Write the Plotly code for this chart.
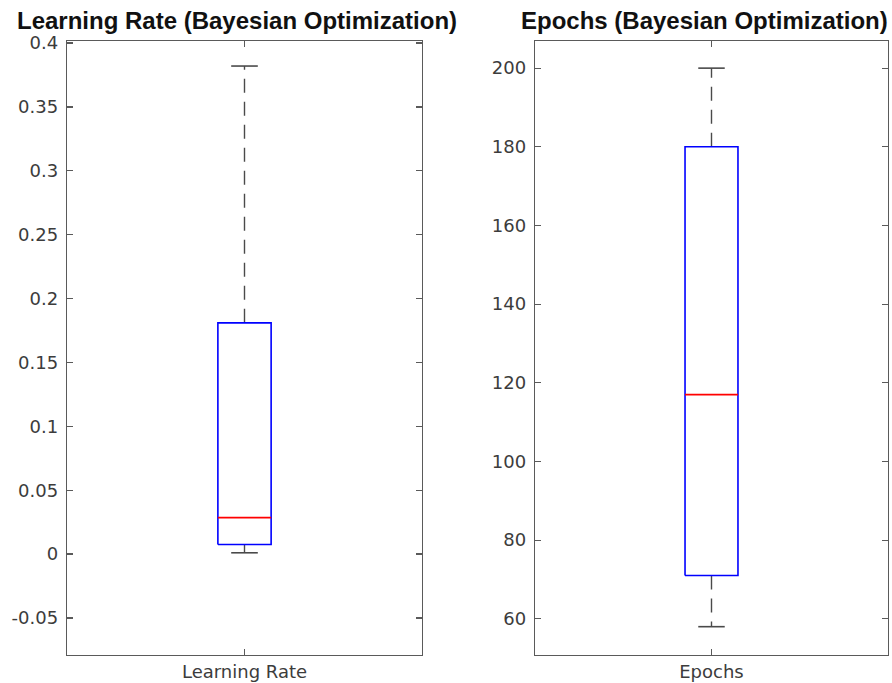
import plotly.graph_objects as go

# ---- data ----
panels = ["Learning Rate", "Epochs"]
titles = ["Learning Rate (Bayesian Optimization)", "Epochs (Bayesian Optimization)"]
lr_stats = {"lower": 0.001, "q1": 0.0075, "median": 0.0285, "q3": 0.181, "upper": 0.382}
ep_stats = {"lower": 58, "q1": 71, "median": 117, "q3": 180, "upper": 200}
lr_ticks = [-0.05, 0, 0.05, 0.1, 0.15, 0.2, 0.25, 0.3, 0.35, 0.4]
lr_ticktext = ["-0.05", "0", "0.05", "0.1", "0.15", "0.2", "0.25", "0.3", "0.35", "0.4"]
ep_ticks = [60, 80, 100, 120, 140, 160, 180, 200]
ep_ticktext = ["60", "80", "100", "120", "140", "160", "180", "200"]
lr_range = [-0.079, 0.4016]
ep_range = [50.8, 206.9]

W, H = 892, 683
fig = go.Figure()

BOX_HALF = 0.075
CAP_HALF = 0.0375
WHISK_COL = "#4a4a4a"
AX_COL = "#5a5a5a"
TICK_FONT = dict(family="DejaVu Sans", size=18, color="#3c3c3c")


def add_box(stats, xa, ya):
    x0 = 1
    fig.add_trace(go.Scatter(x=[x0, x0], y=[stats["q3"], stats["upper"]], mode="lines",
                             line=dict(color=WHISK_COL, width=1.4, dash="14px,9px"),
                             xaxis=xa, yaxis=ya, showlegend=False, hoverinfo="skip"))
    fig.add_trace(go.Scatter(x=[x0, x0], y=[stats["q1"], stats["lower"]], mode="lines",
                             line=dict(color=WHISK_COL, width=1.4, dash="14px,9px"),
                             xaxis=xa, yaxis=ya, showlegend=False, hoverinfo="skip"))
    for v in (stats["lower"], stats["upper"]):
        fig.add_trace(go.Scatter(x=[x0 - CAP_HALF, x0 + CAP_HALF], y=[v, v], mode="lines",
                                 line=dict(color=WHISK_COL, width=1.6),
                                 xaxis=xa, yaxis=ya, showlegend=False, hoverinfo="skip"))
    fig.add_trace(go.Scatter(x=[x0 - BOX_HALF, x0 + BOX_HALF, x0 + BOX_HALF, x0 - BOX_HALF, x0 - BOX_HALF],
                             y=[stats["q1"], stats["q1"], stats["q3"], stats["q3"], stats["q1"]],
                             mode="lines", line=dict(color="#0000ff", width=1.6),
                             xaxis=xa, yaxis=ya, showlegend=False, hoverinfo="skip"))
    fig.add_trace(go.Scatter(x=[x0 - BOX_HALF, x0 + BOX_HALF], y=[stats["median"], stats["median"]],
                             mode="lines", line=dict(color="#ff0000", width=1.6),
                             xaxis=xa, yaxis=ya, showlegend=False, hoverinfo="skip"))


add_box(lr_stats, "x", "y")
add_box(ep_stats, "x2", "y2")


def px_x(v):
    return v / W


def px_y(v):
    return 1 - v / H


ydom = [px_y(655), px_y(41)]
common_x = dict(range=[0.5, 1.5], tickvals=[1], showgrid=False, zeroline=False,
                showline=True, linecolor=AX_COL, linewidth=1.3, mirror="ticks",
                ticks="inside", ticklen=6, tickcolor=AX_COL, tickwidth=1.2,
                tickfont=TICK_FONT, fixedrange=True, automargin=False)
common_y = dict(showgrid=False, zeroline=False, showline=True, linecolor=AX_COL, linewidth=1.3,
                mirror="ticks", ticks="inside", ticklen=6, tickcolor=AX_COL, tickwidth=1.2,
                tickfont=TICK_FONT, ticklabelstandoff=4, automargin=False, fixedrange=True)

fig.update_layout(
    width=W, height=H,
    margin=dict(l=0, r=0, t=0, b=0, autoexpand=False),
    paper_bgcolor="white", plot_bgcolor="white",
    hovermode=False,
    xaxis=dict(domain=[px_x(67), px_x(422)], ticktext=[panels[0]], anchor="y", **common_x),
    xaxis2=dict(domain=[px_x(535), px_x(888)], ticktext=[panels[1]], anchor="y2", **common_x),
    yaxis=dict(domain=ydom, range=lr_range, tickvals=lr_ticks, ticktext=lr_ticktext, anchor="x", **common_y),
    yaxis2=dict(domain=ydom, range=ep_range, tickvals=ep_ticks, ticktext=ep_ticktext, anchor="x2", **common_y),
)

title_font = dict(family="Liberation Sans", size=24, color="#111111")
fig.add_annotation(text="<b>" + titles[0] + "</b>", x=px_x(236.5), y=px_y(20), xref="paper", yref="paper",
                   xanchor="center", yanchor="middle", showarrow=False, font=title_font)
fig.add_annotation(text="<b>" + titles[1] + "</b>", x=px_x(704), y=px_y(20), xref="paper", yref="paper",
                   xanchor="center", yanchor="middle", showarrow=False, font=title_font)

fig.write_html(
    "out.html",
    config={"displayModeBar": False, "staticPlot": True},
    post_script="document.body.style.margin='0';document.documentElement.style.overflow='hidden';",
)
